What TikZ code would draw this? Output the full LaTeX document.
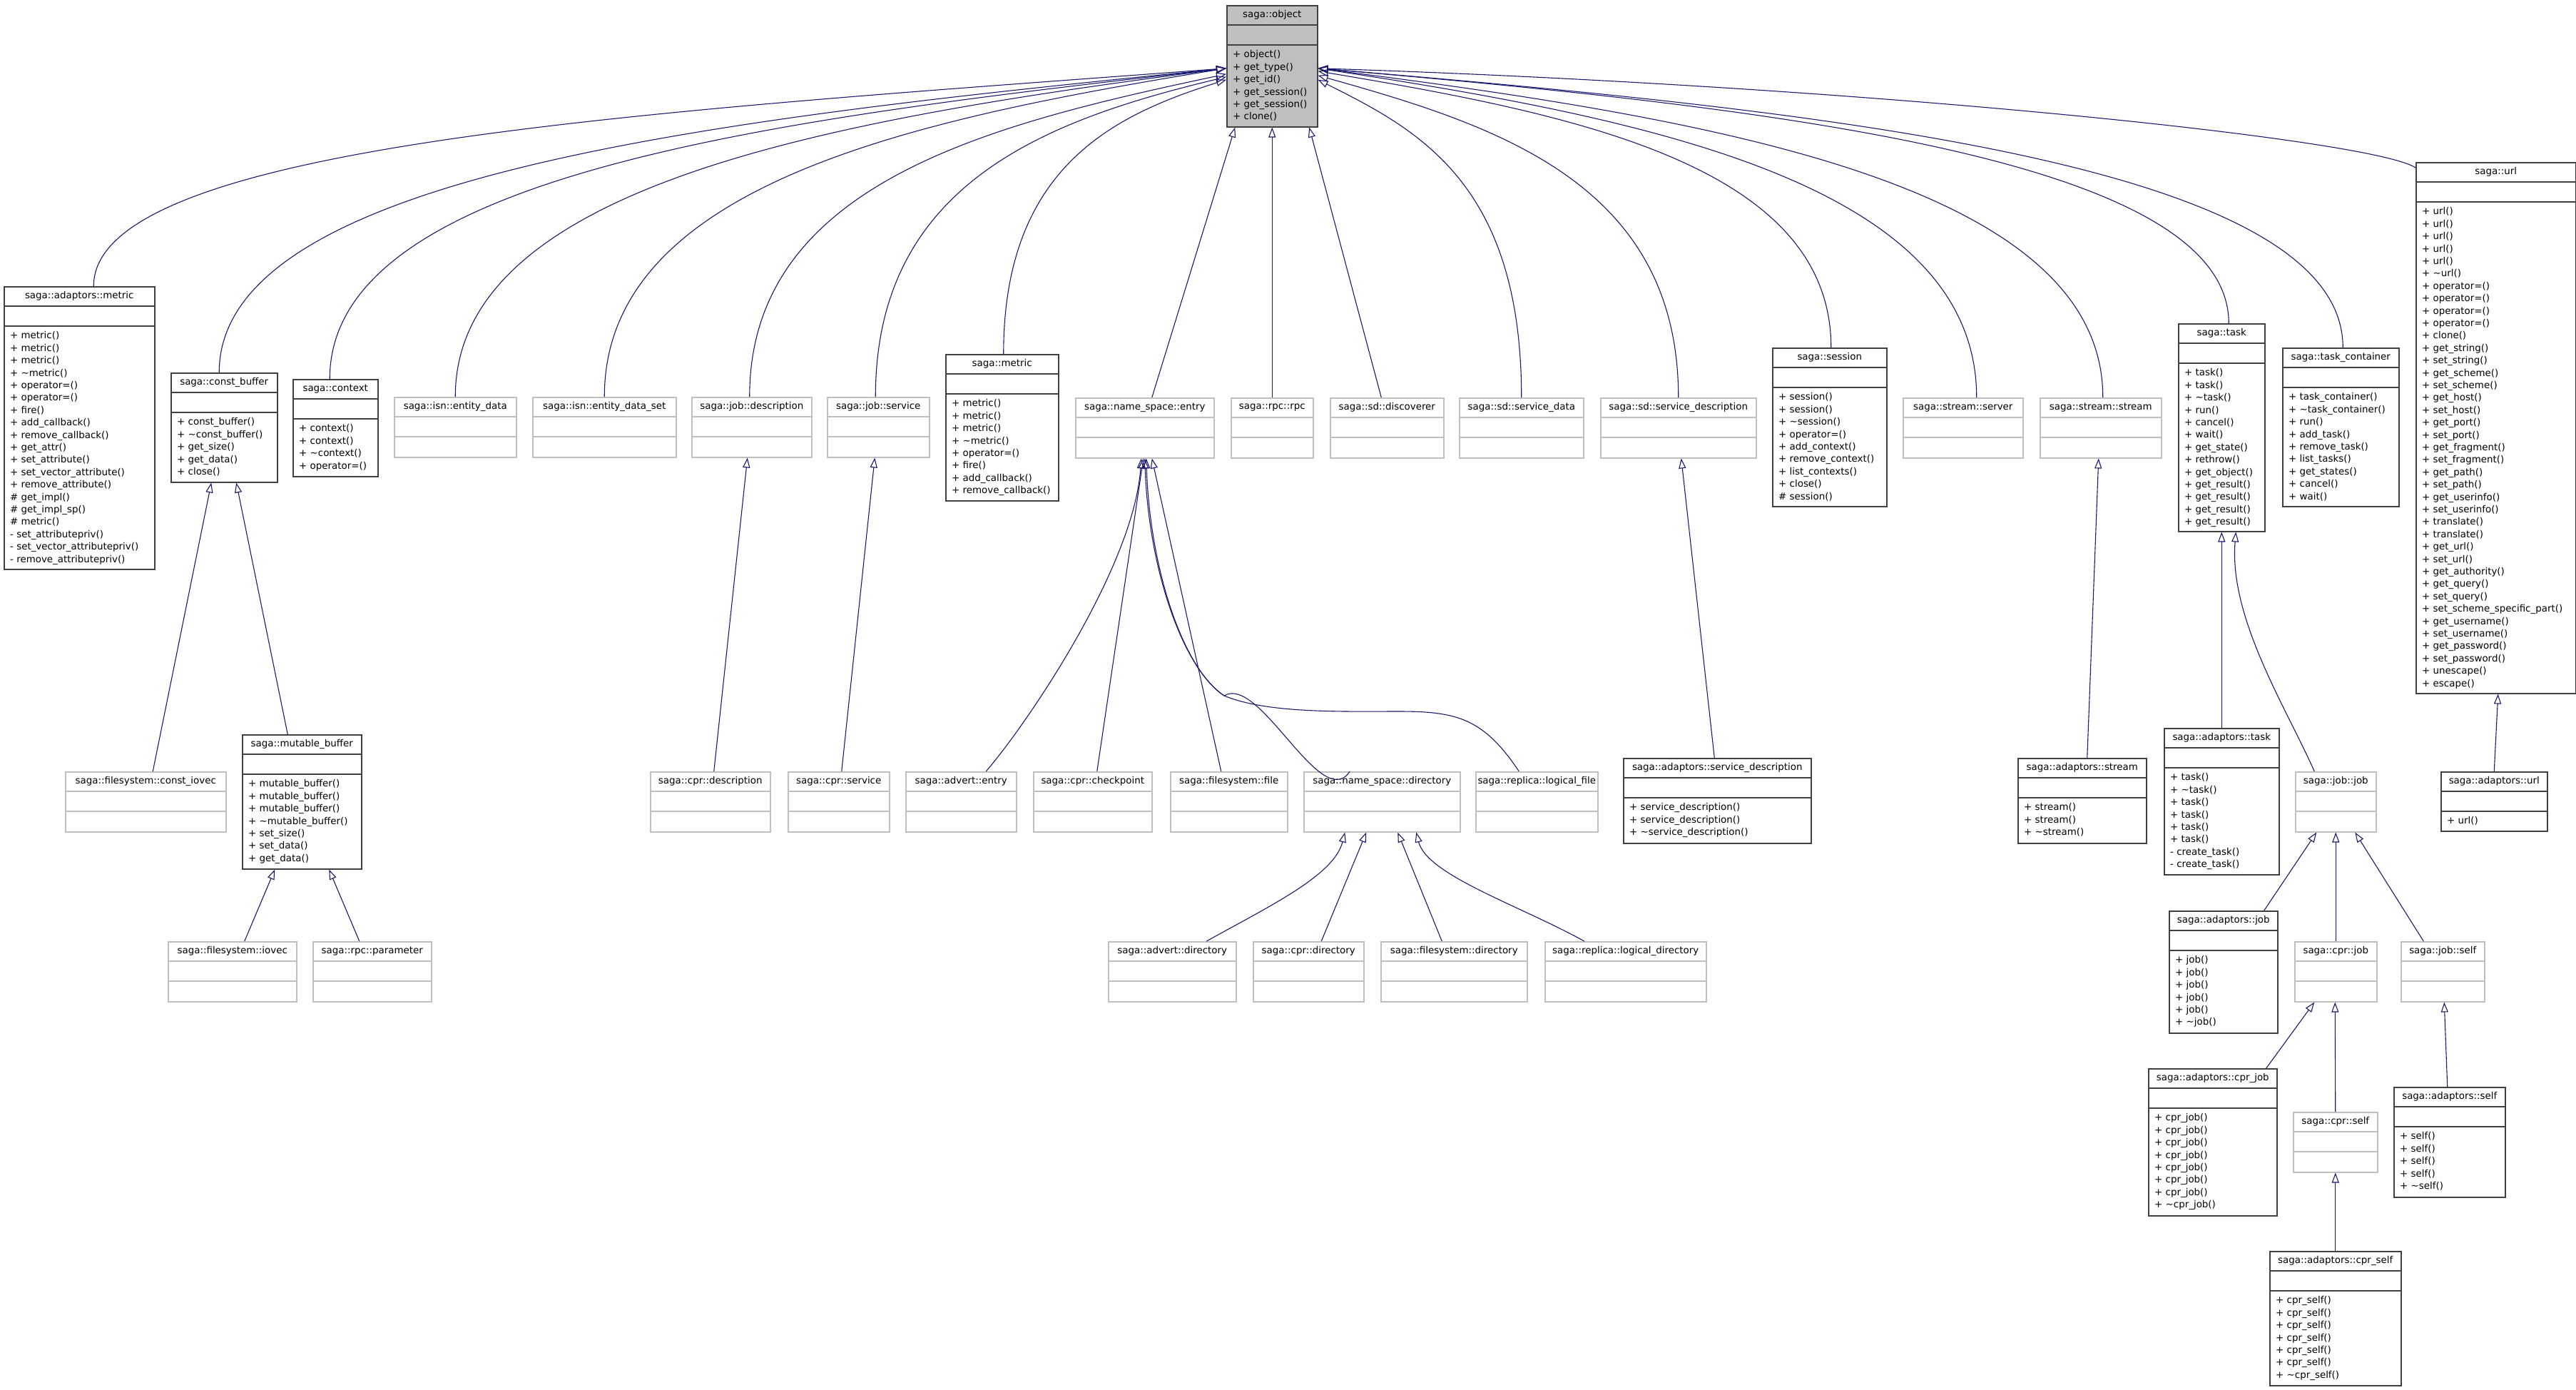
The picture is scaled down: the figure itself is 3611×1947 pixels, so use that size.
\documentclass[tikz,border=0pt]{standalone}
\usepackage{fontspec}
\setmainfont{DejaVu Sans}
\usetikzlibrary{arrows.meta, calc}

\definecolor{edgeblue}{RGB}{25,25,112}
\newcommand{\clsfont}{\fontsize{13.4}{17.4}\selectfont}
\newcommand{\tl}{\textasciitilde}

% one class box: name, kind (blk/gry/obj), x, y, width, height, title, methods
\newcommand{\umlclass}[8]{%
  \node[#2box, anchor=north west, minimum width=#5pt, minimum height=#6pt] (#1) at (#3,-#4) {};
  \node[font=\clsfont] at ([yshift=-14pt]#1.north) {#7};
  \draw[#2sep] ([yshift=-28pt]#1.north west) -- ([yshift=-28pt]#1.north east)
               ([yshift=-56pt]#1.north west) -- ([yshift=-56pt]#1.north east);
  \node[anchor=north west, align=left, inner sep=0pt, font=\clsfont]
    at ([xshift=9pt,yshift=-63.5pt]#1.north west) {#8};
}

\begin{document}
\begin{tikzpicture}[
    x=1pt, y=1pt,
    blkbox/.style={draw=black!75, line width=1.5pt, fill=white, inner sep=0pt},
    grybox/.style={draw=black!25, line width=1.5pt, fill=white, inner sep=0pt},
    objbox/.style={draw=black!75, line width=1.5pt, fill=black!25, inner sep=0pt},
    blksep/.style={draw=black!75, line width=1.5pt},
    grysep/.style={draw=black!25, line width=1.5pt},
    objsep/.style={draw=black!75, line width=1.5pt},
    inh/.style={draw=edgeblue, line width=1.1pt, -{Triangle[open, length=14pt, width=10pt]}}
]
\useasboundingbox (0,0) rectangle (3611,-1947);

% Base class
\umlclass{obj}{obj}{1719}{7}{127}{170}{saga::object}{+ object()\\+ get\_type()\\+ get\_id()\\+ get\_session()\\+ get\_session()\\+ clone()}
\coordinate (objL) at ([yshift=-3pt]obj.west);
\coordinate (objR) at ([yshift=-3pt]obj.east);

% Direct children of saga::object
\umlclass{ametric}{blk}{5}{401}{211}{396}{saga::adaptors::metric}{+ metric()\\+ metric()\\+ metric()\\+ \tl metric()\\+ operator=()\\+ operator=()\\+ fire()\\+ add\_callback()\\+ remove\_callback()\\+ get\_attr()\\+ set\_attribute()\\+ set\_vector\_attribute()\\+ remove\_attribute()\\\# get\_impl()\\\# get\_impl\_sp()\\\# metric()\\- set\_attributepriv()\\- set\_vector\_attributepriv()\\- remove\_attributepriv()}
\umlclass{cbuf}{blk}{239}{522}{149}{153}{saga::const\_buffer}{+ const\_buffer()\\+ \tl const\_buffer()\\+ get\_size()\\+ get\_data()\\+ close()}
\umlclass{ctx}{blk}{410}{531}{119}{136}{saga::context}{+ context()\\+ context()\\+ \tl context()\\+ operator=()}
\umlclass{ised}{gry}{552}{556}{171}{84}{saga::isn::entity\_data}{}
\umlclass{isds}{gry}{746}{556}{201}{84}{saga::isn::entity\_data\_set}{}
\umlclass{jdesc}{gry}{969}{556}{168}{84}{saga::job::description}{}
\umlclass{jsrv}{gry}{1159}{556}{143}{84}{saga::job::service}{}
\umlclass{metric}{blk}{1325}{496}{158}{205}{saga::metric}{+ metric()\\+ metric()\\+ metric()\\+ \tl metric()\\+ operator=()\\+ fire()\\+ add\_callback()\\+ remove\_callback()}
\umlclass{nsent}{gry}{1507}{557}{194}{84}{saga::name\_space::entry}{}
\umlclass{rpc}{gry}{1725}{557}{115}{84}{saga::rpc::rpc}{}
\umlclass{sddisc}{gry}{1864}{557}{159}{84}{saga::sd::discoverer}{}
\umlclass{sddata}{gry}{2045}{557}{174}{84}{saga::sd::service\_data}{}
\umlclass{sddesc}{gry}{2243}{557}{218}{84}{saga::sd::service\_description}{}
\umlclass{session}{blk}{2484}{487}{160}{222}{saga::session}{+ session()\\+ session()\\+ \tl session()\\+ operator=()\\+ add\_context()\\+ remove\_context()\\+ list\_contexts()\\+ close()\\\# session()}
\umlclass{ssrv}{gry}{2667}{557}{168}{84}{saga::stream::server}{}
\umlclass{sstream}{gry}{2859}{557}{170}{84}{saga::stream::stream}{}
\umlclass{task}{blk}{3053}{453}{121}{291}{saga::task}{+ task()\\+ task()\\+ \tl task()\\+ run()\\+ cancel()\\+ wait()\\+ get\_state()\\+ rethrow()\\+ get\_object()\\+ get\_result()\\+ get\_result()\\+ get\_result()\\+ get\_result()}
\umlclass{tcont}{blk}{3199}{487}{163}{222}{saga::task\_container}{+ task\_container()\\+ \tl task\_container()\\+ run()\\+ add\_task()\\+ remove\_task()\\+ list\_tasks()\\+ get\_states()\\+ cancel()\\+ wait()}
\umlclass{url}{blk}{3386}{227}{224}{744}{saga::url}{+ url()\\+ url()\\+ url()\\+ url()\\+ url()\\+ \tl url()\\+ operator=()\\+ operator=()\\+ operator=()\\+ operator=()\\+ clone()\\+ get\_string()\\+ set\_string()\\+ get\_scheme()\\+ set\_scheme()\\+ get\_host()\\+ set\_host()\\+ get\_port()\\+ set\_port()\\+ get\_fragment()\\+ set\_fragment()\\+ get\_path()\\+ set\_path()\\+ get\_userinfo()\\+ set\_userinfo()\\+ translate()\\+ translate()\\+ get\_url()\\+ set\_url()\\+ get\_authority()\\+ get\_query()\\+ set\_query()\\+ set\_scheme\_specific\_part()\\+ get\_username()\\+ set\_username()\\+ get\_password()\\+ set\_password()\\+ unescape()\\+ escape()}

% Second level
\umlclass{ciovec}{gry}{91}{1081}{225}{84}{saga::filesystem::const\_iovec}{}
\umlclass{mbuf}{blk}{339}{1029}{167}{188}{saga::mutable\_buffer}{+ mutable\_buffer()\\+ mutable\_buffer()\\+ mutable\_buffer()\\+ \tl mutable\_buffer()\\+ set\_size()\\+ set\_data()\\+ get\_data()}
\umlclass{cdesc}{gry}{911}{1081}{168}{84}{saga::cpr::description}{}
\umlclass{csrv}{gry}{1104}{1081}{142}{84}{saga::cpr::service}{}
\umlclass{aentry}{gry}{1269}{1081}{155}{84}{saga::advert::entry}{}
\umlclass{ckpt}{gry}{1448}{1081}{166}{84}{saga::cpr::checkpoint}{}
\umlclass{fsfile}{gry}{1640}{1081}{164}{84}{saga::filesystem::file}{}
\umlclass{nsdir}{gry}{1827}{1081}{219}{84}{saga::name\_space::directory}{}
\umlclass{rlf}{gry}{2068}{1081}{171}{84}{saga::replica::logical\_file}{}
\umlclass{asddesc}{blk}{2275}{1062}{263}{119}{saga::adaptors::service\_description}{+ service\_description()\\+ service\_description()\\+ \tl service\_description()}
\umlclass{astream}{blk}{2828}{1062}{180}{119}{saga::adaptors::stream}{+ stream()\\+ stream()\\+ \tl stream()}
\umlclass{atask}{blk}{3033}{1020}{161}{205}{saga::adaptors::task}{+ task()\\+ \tl task()\\+ task()\\+ task()\\+ task()\\+ task()\\- create\_task()\\- create\_task()}
\umlclass{jjob}{gry}{3217}{1081}{113}{84}{saga::job::job}{}
\umlclass{aurl}{blk}{3421}{1081}{149}{83}{saga::adaptors::url}{+ url()}

% Third level and below
\umlclass{iovec}{gry}{235}{1319}{180}{84}{saga::filesystem::iovec}{}
\umlclass{param}{gry}{438}{1319}{166}{84}{saga::rpc::parameter}{}
\umlclass{adir}{gry}{1553}{1319}{179}{84}{saga::advert::directory}{}
\umlclass{cdir}{gry}{1756}{1319}{155}{84}{saga::cpr::directory}{}
\umlclass{fsdir}{gry}{1935}{1319}{205}{84}{saga::filesystem::directory}{}
\umlclass{rldir}{gry}{2165}{1319}{226}{84}{saga::replica::logical\_directory}{}
\umlclass{ajob}{blk}{3040}{1276}{152}{171}{saga::adaptors::job}{+ job()\\+ job()\\+ job()\\+ job()\\+ job()\\+ \tl job()}
\umlclass{cjob}{gry}{3216}{1319}{115}{84}{saga::cpr::job}{}
\umlclass{jself}{gry}{3365}{1319}{117}{84}{saga::job::self}{}
\umlclass{acjob}{blk}{3011}{1497}{180}{206}{saga::adaptors::cpr\_job}{+ cpr\_job()\\+ cpr\_job()\\+ cpr\_job()\\+ cpr\_job()\\+ cpr\_job()\\+ cpr\_job()\\+ cpr\_job()\\+ \tl cpr\_job()}
\umlclass{cself}{gry}{3214}{1558}{118}{84}{saga::cpr::self}{}
\umlclass{aself}{blk}{3355}{1523}{156}{154}{saga::adaptors::self}{+ self()\\+ self()\\+ self()\\+ self()\\+ \tl self()}
\umlclass{acself}{blk}{3181}{1753}{184}{188}{saga::adaptors::cpr\_self}{+ cpr\_self()\\+ cpr\_self()\\+ cpr\_self()\\+ cpr\_self()\\+ cpr\_self()\\+ cpr\_self()\\+ \tl cpr\_self()}

% Inheritance into saga::object, left side
\draw[inh] ([xshift=20pt]ametric.north) .. controls +(0,200) and +(-800,-60) .. (objL);
\draw[inh] ([xshift=-7pt]cbuf.north) .. controls +(0,280) and +(-700,-70) .. (objL);
\draw[inh] ([xshift=-8pt]ctx.north) .. controls +(0,290) and +(-620,-70) .. (objL);
\draw[inh] (ised.north) .. controls +(0,300) and +(-540,-70) .. (objL);
\draw[inh] (isds.north) .. controls +(0,300) and +(-430,-70) .. (objL);
\draw[inh] ([xshift=-3pt]jdesc.north) .. controls +(0,300) and +(-330,-70) .. ([yshift=-8pt]objL);
\draw[inh] ([xshift=-4pt]jsrv.north) .. controls +(0,300) and +(-250,-60) .. ([yshift=-12pt]objL);
\draw[inh] ([xshift=2pt]metric.north) .. controls +(0,260) and +(-160,-50) .. ([yshift=-16pt]objL);

% Inheritance into saga::object, bottom
\draw[inh] ([xshift=10pt]nsent.north) -- ([xshift=-52pt]obj.south);
\draw[inh] (rpc.north) -- (obj.south);
\draw[inh] ([xshift=-8pt]sddisc.north) -- ([xshift=52pt]obj.south);

% Inheritance into saga::object, right side
\draw[inh] (sddata.north) .. controls +(0,300) and +(140,-70) .. ([yshift=-16pt]objR);
\draw[inh] (sddesc.north) .. controls +(0,300) and +(250,-70) .. ([yshift=-10pt]objR);
\draw[inh] ([xshift=2pt]session.north) .. controls +(0,255) and +(360,-60) .. ([yshift=-4pt]objR);
\draw[inh] ([xshift=19pt]ssrv.north) .. controls +(0,300) and +(460,-70) .. (objR);
\draw[inh] ([xshift=3pt]sstream.north) .. controls +(0,300) and +(550,-70) .. (objR);
\draw[inh] ([xshift=10pt]task.north) .. controls +(0,230) and +(640,-55) .. (objR);
\draw[inh] ([xshift=3pt]tcont.north) .. controls +(0,255) and +(720,-60) .. (objR);
\draw[inh] ([yshift=-8pt]url.north west) .. controls +(-60,40) and +(770,-25) .. (objR);

% Buffers
\draw[inh] ([xshift=10pt]ciovec.north) -- ([xshift=-18pt]cbuf.south);
\draw[inh] ([xshift=-20pt]mbuf.north) -- ([xshift=17pt]cbuf.south);
\draw[inh] ([xshift=17pt]iovec.north) -- ([xshift=-38pt]mbuf.south);
\draw[inh] ([xshift=-18pt]param.north) -- ([xshift=38pt]mbuf.south);

% Jobs, name space and service description
\draw[inh] ([xshift=5pt]cdesc.north) -- ([xshift=-6pt]jdesc.south);
\draw[inh] ([xshift=4pt]csrv.north) -- ([xshift=-5pt]jsrv.south);
\draw[inh] ([xshift=35pt]aentry.north) .. controls +(60,70) and +(-10,-150) .. ([xshift=-5pt]nsent.south);
\draw[inh] ([xshift=6pt]ckpt.north) -- ([xshift=-2pt]nsent.south);
\draw[inh] ([xshift=-11pt]fsfile.north) -- ([xshift=10pt]nsent.south);
\draw[inh] ([xshift=-45pt]nsdir.north) .. controls +(-40,-60) and +(50,30) .. (1716,-975)
  .. controls +(-60,40) and +(5,-150) .. (nsent.south);
\draw[inh] ([xshift=-25pt]rlf.north) .. controls +(-50,75) and +(80,0) .. (1961,-997)
  .. controls +(-80,0) and +(60,-25) .. (1716,-975)
  .. controls +(-60,40) and +(5,-150) .. ([xshift=2pt]nsent.south);
\draw[inh] ([xshift=-4pt]asddesc.north) -- ([xshift=4pt]sddesc.south);
\draw[inh] ([xshift=48pt]adir.north) .. controls +(90,50) and +(-15,-60) .. ([xshift=-52pt]nsdir.south);
\draw[inh] ([xshift=18pt]cdir.north) -- ([xshift=-22pt]nsdir.south);
\draw[inh] ([xshift=-17pt]fsdir.north) -- ([xshift=22pt]nsdir.south);
\draw[inh] ([xshift=-58pt]rldir.north) .. controls +(-90,50) and +(15,-60) .. ([xshift=48pt]nsdir.south);
\draw[inh] ([xshift=7pt]astream.north) -- ([xshift=-3pt]sstream.south);

% Tasks and jobs
\draw[inh] (atask.north) -- (task.south);
\draw[inh] ([xshift=-30pt]jjob.north) .. controls +(-40,90) and +(-10,-120) .. ([xshift=20pt]task.south);
\draw[inh] (aurl.north) -- ([xshift=3pt]url.south);
\draw[inh] ([xshift=57pt]ajob.north) -- ([xshift=-27pt]jjob.south);
\draw[inh] (cjob.north) -- (jjob.south);
\draw[inh] ([xshift=-27pt]jself.north) -- ([xshift=27pt]jjob.south);
\draw[inh] ([xshift=75pt]acjob.north) -- ([xshift=-30pt]cjob.south);
\draw[inh] (cself.north) -- ([xshift=-1pt]cjob.south);
\draw[inh] ([xshift=-3pt]aself.north) -- ([xshift=2pt]jself.south);
\draw[inh] (acself.north) -- (cself.south);

\end{tikzpicture}
\end{document}
